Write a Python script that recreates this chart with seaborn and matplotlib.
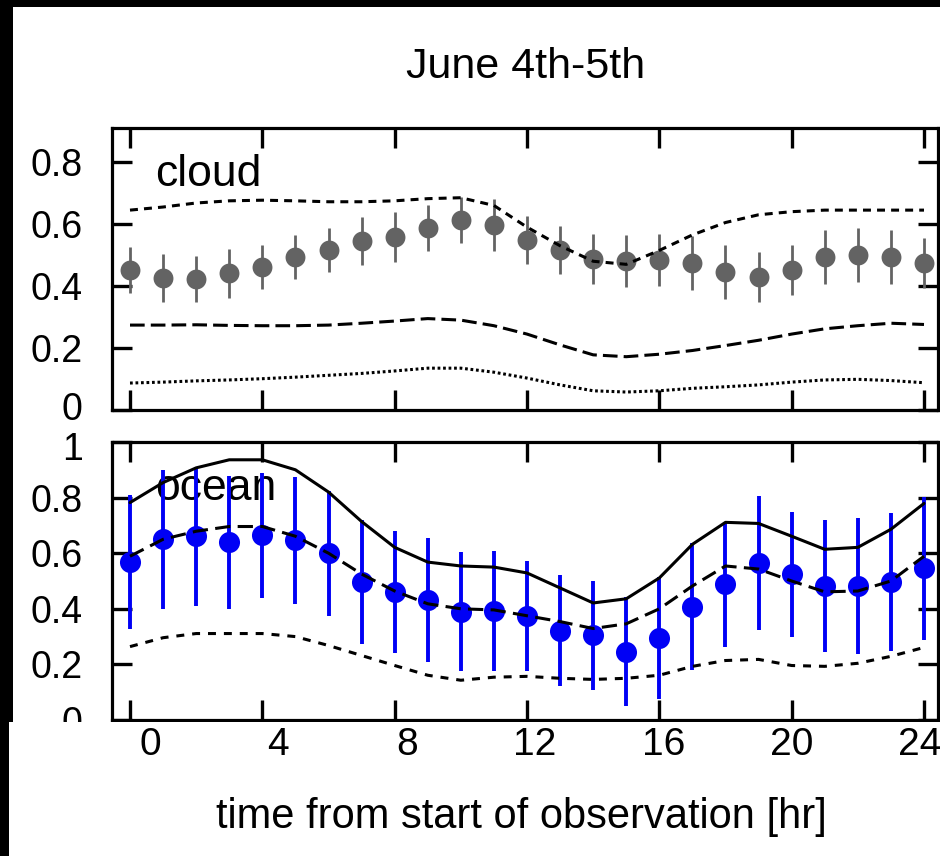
import matplotlib
matplotlib.use("Agg")
import matplotlib.pyplot as plt
from matplotlib.patches import Rectangle
from matplotlib.transforms import ScaledTranslation
import pandas as pd
import seaborn as sns

# ---------------------------------------------------------------- data
hours = list(range(25))

cloud_frac = [0.452, 0.426, 0.422, 0.441, 0.462, 0.494, 0.516, 0.545, 0.558, 0.587,
              0.613, 0.597, 0.548, 0.516, 0.487, 0.481, 0.484, 0.474, 0.445, 0.429,
              0.452, 0.494, 0.500, 0.494, 0.474]
cloud_err = [0.075, 0.078, 0.075, 0.078, 0.070, 0.070, 0.072, 0.078, 0.080, 0.075,
             0.073, 0.083, 0.078, 0.078, 0.080, 0.083, 0.083, 0.088, 0.086, 0.082,
             0.080, 0.086, 0.086, 0.086, 0.080]
cloud_upper = [0.645, 0.655, 0.668, 0.675, 0.677, 0.675, 0.672, 0.672, 0.675, 0.682,
               0.685, 0.660, 0.590, 0.530, 0.480, 0.470, 0.515, 0.565, 0.605, 0.630,
               0.640, 0.645, 0.645, 0.645, 0.645]
cloud_middle = [0.274, 0.274, 0.275, 0.273, 0.272, 0.272, 0.274, 0.280, 0.287, 0.295,
                0.290, 0.272, 0.245, 0.210, 0.178, 0.172, 0.180, 0.192, 0.208, 0.225,
                0.245, 0.262, 0.272, 0.280, 0.276]
cloud_lower = [0.087, 0.090, 0.094, 0.097, 0.101, 0.106, 0.112, 0.118, 0.126, 0.135,
               0.135, 0.122, 0.103, 0.081, 0.062, 0.058, 0.062, 0.070, 0.075, 0.081,
               0.090, 0.097, 0.099, 0.095, 0.088]

ocean_frac = [0.568, 0.650, 0.661, 0.639, 0.664, 0.646, 0.600, 0.497, 0.461, 0.432,
              0.390, 0.393, 0.375, 0.321, 0.304, 0.246, 0.296, 0.407, 0.489, 0.564,
              0.525, 0.482, 0.482, 0.496, 0.546]
ocean_err = [0.240, 0.250, 0.250, 0.240, 0.225, 0.227, 0.225, 0.223, 0.220, 0.223,
             0.215, 0.215, 0.197, 0.200, 0.195, 0.196, 0.220, 0.228, 0.225, 0.240,
             0.225, 0.238, 0.243, 0.247, 0.257]
ocean_upper = [0.782, 0.854, 0.907, 0.936, 0.936, 0.900, 0.820, 0.714, 0.621, 0.568,
               0.554, 0.550, 0.529, 0.475, 0.421, 0.436, 0.511, 0.632, 0.711, 0.707,
               0.661, 0.614, 0.621, 0.686, 0.779]
ocean_middle = [0.589, 0.650, 0.679, 0.696, 0.696, 0.661, 0.600, 0.525, 0.464, 0.418,
                0.400, 0.396, 0.375, 0.354, 0.329, 0.346, 0.400, 0.482, 0.554, 0.543,
                0.500, 0.461, 0.464, 0.500, 0.589]
ocean_lower = [0.264, 0.296, 0.311, 0.311, 0.311, 0.300, 0.268, 0.232, 0.196, 0.161,
               0.143, 0.154, 0.157, 0.150, 0.146, 0.150, 0.161, 0.193, 0.214, 0.218,
               0.196, 0.193, 0.204, 0.229, 0.261]

tick_hours = [0, 4, 8, 12, 16, 20, 24]
tick_hour_labels = ["0", "4", "8", "12", "16", "20", "24"]
cloud_yticks = [0.0, 0.2, 0.4, 0.6, 0.8]
cloud_ylabels = ["0", "0.2", "0.4", "0.6", "0.8"]
ocean_yticks = [0.0, 0.2, 0.4, 0.6, 0.8, 1.0]
ocean_ylabels = ["0", "0.2", "0.4", "0.6", "0.8", "1"]

cloud = pd.DataFrame({"hour": hours, "frac": cloud_frac, "err": cloud_err,
                      "upper": cloud_upper, "middle": cloud_middle, "lower": cloud_lower})
ocean = pd.DataFrame({"hour": hours, "frac": ocean_frac, "err": ocean_err,
                      "upper": ocean_upper, "middle": ocean_middle, "lower": ocean_lower})

# ---------------------------------------------------------------- style
sns.set_style("ticks")
plt.rcParams["font.family"] = ["Liberation Sans", "DejaVu Sans"]
plt.rcParams.update({"text.color": "black", "axes.labelcolor": "black",
                     "xtick.color": "black", "ytick.color": "black",
                     "axes.edgecolor": "black"})

W, H = 940, 856
fig = plt.figure(figsize=(W / 100, H / 100), dpi=100, facecolor="white")


def fx(px):
    return px / W


def fy(py):
    return 1 - py / H


X_LEFT, X_RIGHT = 112, 938
PX_PER_HR = 33.08
XLIM = (-(130 - X_LEFT) / PX_PER_HR, 24 + (X_RIGHT - 924) / PX_PER_HR)

ax_c = fig.add_axes([fx(X_LEFT), fy(410), fx(X_RIGHT - X_LEFT), (410 - 128) / H])
ax_o = fig.add_axes([fx(X_LEFT), fy(720), fx(X_RIGHT - X_LEFT), (720 - 442) / H])

GREY = "#636363"
BLUE = "#0000f5"
LW = 2.2


def style_axes(ax, yticks, ylabels, ylim):
    ax.set_xlim(*XLIM)
    ax.set_ylim(*ylim)
    ax.set_xticks(tick_hours)
    ax.set_xticklabels([])
    ax.set_yticks(yticks)
    ax.set_yticklabels(ylabels)
    ax.tick_params(direction="in", length=14.5, width=2.4, top=True, right=True,
                   labelsize=27, pad=21, colors="black", labelcolor="black")
    ax.tick_params(axis="x", labelbottom=False)
    for sp in ax.spines.values():
        sp.set_visible(True)
        sp.set_linewidth(2.3)
        sp.set_color("black")
    ax.set_xlabel("")
    ax.set_ylabel("")
    ax.set_facecolor("none")


# ---------------------------------------------------------------- cloud panel
ax_c.errorbar(cloud["hour"], cloud["frac"], yerr=cloud["err"], fmt="none",
              ecolor=GREY, elinewidth=2.0, capsize=0, zorder=2)
sns.scatterplot(data=cloud, x="hour", y="frac", ax=ax_c, color=GREY, s=205,
                linewidth=0, zorder=3, legend=False)
sns.lineplot(data=cloud, x="hour", y="upper", ax=ax_c, color="black", lw=LW,
             linestyle=(0, (2.6, 2.0)), errorbar=None, zorder=4)
sns.lineplot(data=cloud, x="hour", y="middle", ax=ax_c, color="black", lw=LW,
             linestyle=(0, (4.8, 2.0)), errorbar=None, zorder=4)
sns.lineplot(data=cloud, x="hour", y="lower", ax=ax_c, color="black", lw=LW,
             linestyle=(0, (0.9, 0.9)), errorbar=None, zorder=4)
ax_c.text(0.052, 0.794, "cloud", transform=ax_c.transAxes, fontsize=32,
          ha="left", va="baseline", color="black", zorder=1)
style_axes(ax_c, cloud_yticks, cloud_ylabels, (0, 0.91))

# ---------------------------------------------------------------- ocean panel
ax_o.text(0.052, 0.791, "ocean", transform=ax_o.transAxes, fontsize=32,
          ha="left", va="baseline", color="black", zorder=1)
ax_o.errorbar(ocean["hour"], ocean["frac"], yerr=ocean["err"], fmt="none",
              ecolor=BLUE, elinewidth=2.8, capsize=0, zorder=2)
sns.scatterplot(data=ocean, x="hour", y="frac", ax=ax_o, color=BLUE, s=230,
                linewidth=0, zorder=3, legend=False)
sns.lineplot(data=ocean, x="hour", y="upper", ax=ax_o, color="black", lw=LW,
             errorbar=None, zorder=4)
sns.lineplot(data=ocean, x="hour", y="middle", ax=ax_o, color="black", lw=LW,
             linestyle=(0, (5.0, 2.4)), errorbar=None, zorder=4)
sns.lineplot(data=ocean, x="hour", y="lower", ax=ax_o, color="black", lw=LW,
             linestyle=(0, (2.6, 2.6)), errorbar=None, zorder=4)
style_axes(ax_o, ocean_yticks, ocean_ylabels, (0, 1.0))

# keep the "0" of the cloud panel and the "1" of the ocean panel apart
lbl_zero = ax_c.yaxis.get_major_ticks()[0].label1
lbl_zero.set_transform(lbl_zero.get_transform()
                       + ScaledTranslation(0, 0.045, fig.dpi_scale_trans))
lbl_one = ax_o.yaxis.get_major_ticks()[-1].label1
lbl_one.set_transform(lbl_one.get_transform()
                      + ScaledTranslation(0, -0.035, fig.dpi_scale_trans))

# ---------------------------------------------------------------- hour labels strip
fig.patches.append(Rectangle((fx(9), 0), 1, fy(722), transform=fig.transFigure,
                             facecolor="white", edgecolor="none", zorder=5))
for (x0, y0, x1, y1) in [(0, 0, W, 7), (0, 0, 13, 722), (0, 722, 9, H)]:
    fig.patches.append(Rectangle((fx(x0), fy(y1)), fx(x1 - x0), (y1 - y0) / H,
                                 transform=fig.transFigure, facecolor="black",
                                 edgecolor="none", zorder=6))

LAB0, LAB24 = 150, 920
ax_lab = fig.add_axes([fx(LAB0), fy(727), fx(LAB24 - LAB0), 0.0005], zorder=10)
ax_lab.set_xlim(0, 24)
ax_lab.set_xticks(tick_hours)
ax_lab.set_xticklabels(tick_hour_labels)
ax_lab.set_yticks([])
ax_lab.tick_params(axis="x", length=0, pad=0, labelsize=28, labelcolor="black")
for sp in ax_lab.spines.values():
    sp.set_visible(False)
ax_lab.patch.set_visible(False)
ax_lab.set_xlabel("time from start of observation [hr]", fontsize=30, va="center",
                  color="black")
ax_lab.xaxis.set_label_coords(fx(521), fy(817), transform=fig.transFigure)

fig.text(fx(526), fy(67), "June 4th-5th", ha="center", va="center", fontsize=31,
         color="black")

fig.savefig("out.png", dpi=100, facecolor="white")
